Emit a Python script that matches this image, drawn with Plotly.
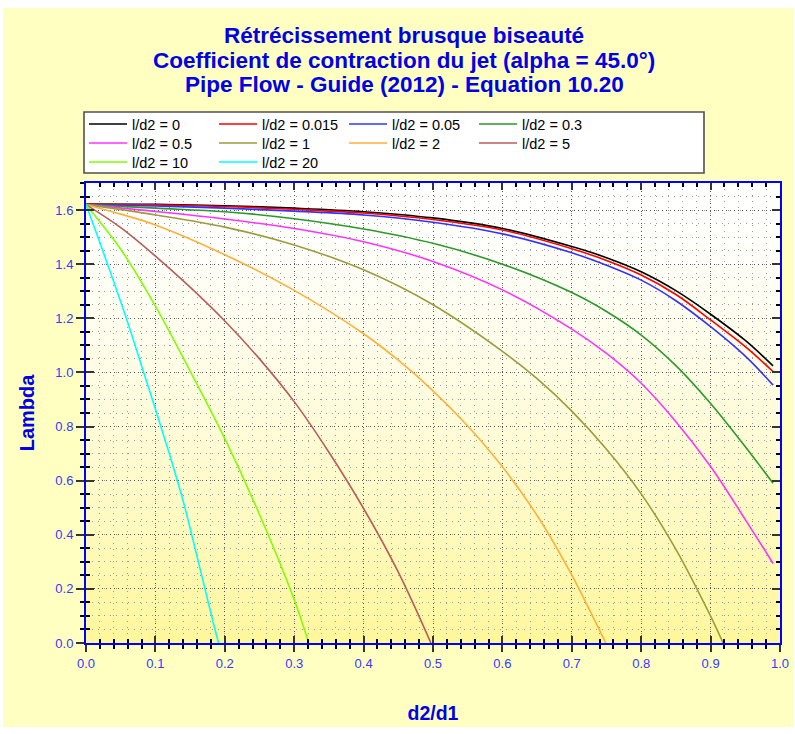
import plotly.graph_objects as go

# ---------------- data ----------------
legend_names = ["l/d2 = 0", "l/d2 = 0.015", "l/d2 = 0.05", "l/d2 = 0.3",
                "l/d2 = 0.5", "l/d2 = 1", "l/d2 = 2", "l/d2 = 5",
                "l/d2 = 10", "l/d2 = 20"]

x_flat = [0.0, 0.1, 0.2, 0.3, 0.4, 0.5, 0.6, 0.7, 0.75, 0.8, 0.85, 0.9, 0.95, 0.99]
y_ld_0 = [1.622, 1.621, 1.616, 1.607, 1.594, 1.571, 1.532, 1.465, 1.424, 1.372, 1.302, 1.215, 1.118, 1.024]
y_ld_0015 = [1.621, 1.619, 1.613, 1.603, 1.589, 1.565, 1.526, 1.457, 1.414, 1.360, 1.288, 1.194, 1.095, 1.003]
y_ld_005 = [1.620, 1.615, 1.607, 1.596, 1.582, 1.555, 1.512, 1.442, 1.396, 1.341, 1.265, 1.169, 1.060, 0.953]
y_ld_03 = [1.620, 1.607, 1.594, 1.568, 1.530, 1.477, 1.400, 1.295, 1.225, 1.138, 1.025, 0.885, 0.725, 0.590]
y_ld_05 = [1.620, 1.595, 1.567, 1.532, 1.483, 1.410, 1.305, 1.160, 1.070, 0.960, 0.818, 0.652, 0.456, 0.294]

x_ld_1 = [0.0, 0.1, 0.2, 0.3, 0.4, 0.5, 0.6, 0.65, 0.7, 0.75, 0.8, 0.85, 0.9, 0.918]
y_ld_1 = [1.620, 1.582, 1.537, 1.471, 1.379, 1.250, 1.078, 0.977, 0.857, 0.716, 0.551, 0.346, 0.099, 0.0]

x_ld_2 = [0.0, 0.05, 0.1, 0.2, 0.3, 0.4, 0.45, 0.5, 0.55, 0.6, 0.65, 0.7, 0.725, 0.749]
y_ld_2 = [1.620, 1.585, 1.545, 1.435, 1.303, 1.143, 1.045, 0.932, 0.802, 0.651, 0.471, 0.251, 0.125, 0.0]

x_ld_5 = [0.0, 0.05, 0.1, 0.15, 0.2, 0.25, 0.3, 0.35, 0.4, 0.45, 0.497]
y_ld_5 = [1.620, 1.535, 1.430, 1.315, 1.190, 1.050, 0.892, 0.705, 0.497, 0.262, 0.0]

x_ld_10 = [0.0, 0.05, 0.1, 0.15, 0.2, 0.25, 0.3, 0.321]
y_ld_10 = [1.620, 1.455, 1.245, 1.005, 0.755, 0.475, 0.160, 0.0]

x_ld_20 = [0.0, 0.02, 0.04, 0.06, 0.08, 0.1, 0.12, 0.14, 0.16, 0.18, 0.191]
y_ld_20 = [1.620, 1.480, 1.335, 1.185, 1.025, 0.865, 0.700, 0.525, 0.320, 0.110, 0.0]

series_x = [x_flat, x_flat, x_flat, x_flat, x_flat, x_ld_1, x_ld_2, x_ld_5, x_ld_10, x_ld_20]
series_y = [y_ld_0, y_ld_0015, y_ld_005, y_ld_03, y_ld_05, y_ld_1, y_ld_2, y_ld_5, y_ld_10, y_ld_20]

x_tick_vals = [0.0, 0.1, 0.2, 0.3, 0.4, 0.5, 0.6, 0.7, 0.8, 0.9, 1.0]
x_tick_text = ["0.0", "0.1", "0.2", "0.3", "0.4", "0.5", "0.6", "0.7", "0.8", "0.9", "1.0"]
y_tick_vals = [0.0, 0.2, 0.4, 0.6, 0.8, 1.0, 1.2, 1.4, 1.6]
y_tick_text = ["0.0", "0.2", "0.4", "0.6", "0.8", "1.0", "1.2", "1.4", "1.6"]

title_lines = ["Rétrécissement brusque biseauté",
               "Coefficient de contraction du jet (alpha = 45.0°)",
               "Pipe Flow - Guide (2012) - Equation 10.20"]

# ---------------- styling ----------------
colors = ["#000000", "#FF0000", "#3333FF", "#2A9A2A", "#FF33FF",
          "#9C9C3C", "#FFB038", "#B85C5C", "#80FF00", "#00FFFF"]
legend_rows = ["legend", "legend", "legend", "legend",
               "legend2", "legend2", "legend2", "legend2",
               "legend3", "legend3"]

W, H = 795, 734
ML, MR, MT, MB = 86, 15, 183, 91
PW, PH = W - ML - MR, H - MT - MB

def px_to_paper_x(px):
    return (px - ML) / PW

def py_to_paper_y(py):
    return (H - MB - py) / PH

FONT = "Liberation Sans, Arial, sans-serif"
BLUE_TXT = "#0000E6"
TICK_BLUE = "#3838FF"

fig = go.Figure()

for name, xs, ys, c, lg in zip(legend_names, series_x, series_y, colors, legend_rows):
    fig.add_trace(go.Scatter(x=xs, y=ys, mode="lines", name=name, legend=lg,
                             line=dict(color=c, width=1.6, shape="spline", smoothing=1.0)))

# empty trace to create the overlay axes used for the inner half of the crossing ticks
fig.add_trace(go.Scatter(x=[], y=[], xaxis="x2", yaxis="y2", showlegend=False,
                         hoverinfo="skip"))

shapes = []
# outer yellow panel
shapes.append(dict(type="rect", xref="paper", yref="paper",
                   x0=px_to_paper_x(3), x1=px_to_paper_x(794),
                   y0=py_to_paper_y(727), y1=py_to_paper_y(8),
                   fillcolor="#FFFFC2", line=dict(width=0), layer="below"))
# plot-area vertical gradient (white at top -> yellow at bottom)
N = 60
for i in range(N):
    f = (i + 0.5) / N
    t = f ** 1.5
    g = int(round(255 - 8 * t))
    b = int(round(255 - 100 * t))
    shapes.append(dict(type="rect", xref="x domain", yref="y domain",
                       x0=0, x1=1, y0=1 - (i + 1) / N, y1=1 - i / N + 0.002,
                       fillcolor=f"rgb(255,{g},{b})", line=dict(width=0), layer="below"))
# legend frame
shapes.append(dict(type="rect", xref="paper", yref="paper",
                   x0=px_to_paper_x(84), x1=px_to_paper_x(704),
                   y0=py_to_paper_y(173), y1=py_to_paper_y(112),
                   fillcolor="#FFFFFF", line=dict(color="#505050", width=1.6), layer="below"))

annotations = []
for line, yc in zip(title_lines, [36, 60, 84]):
    annotations.append(dict(text=f"<b>{line}</b>", xref="paper", yref="paper",
                            x=px_to_paper_x(404), y=py_to_paper_y(yc),
                            xanchor="center", yanchor="middle", showarrow=False,
                            font=dict(family=FONT, size=22.5, color=BLUE_TXT)))

axis_common = dict(showline=True, linecolor="#0000FF", linewidth=2, mirror=True,
                   zeroline=False, showgrid=True, gridcolor="#555555", griddash="1px,3px",
                   gridwidth=1, ticks="outside", tickcolor="#333333", tickwidth=1.5,
                   automargin=False,
                   tickfont=dict(family=FONT, size=13, color=TICK_BLUE))

legend_common = dict(orientation="h", x=px_to_paper_x(84), xanchor="left",
                     yanchor="middle", entrywidth=77, entrywidthmode="pixels",
                     itemwidth=38, bgcolor="rgba(0,0,0,0)", borderwidth=0,
                     traceorder="normal",
                     font=dict(family=FONT, size=14.5, color="#000000"))

fig.update_layout(
    width=W, height=H,
    margin=dict(l=ML, r=MR, t=MT, b=MB, autoexpand=False),
    paper_bgcolor="#FFFFFF",
    plot_bgcolor="rgba(0,0,0,0)",
    shapes=shapes,
    annotations=annotations,
    xaxis=dict(range=[0, 1], tickvals=x_tick_vals, ticktext=x_tick_text, ticklen=7,
               minor=dict(dtick=0.02, ticks="outside", ticklen=4, tickcolor="#000000",
                          showgrid=True, gridcolor="#9A9A9A", griddash="1px,5px"),
               title=dict(text="<b>d2/d1</b>", standoff=37,
                          font=dict(family=FONT, size=19.5, color=BLUE_TXT)),
               **axis_common),
    yaxis=dict(range=[0, 1.7], tickvals=y_tick_vals, ticktext=y_tick_text, ticklen=8,
               minor=dict(dtick=0.05, ticks="outside", ticklen=4, tickcolor="#000000",
                          showgrid=True, gridcolor="#9A9A9A", griddash="1px,5px"),
               title=dict(text="<b>Lambda</b>", standoff=15,
                          font=dict(family=FONT, size=20, color=BLUE_TXT)),
               **axis_common),
    xaxis2=dict(overlaying="x", anchor="y2", side="bottom", range=[0, 1],
                tickvals=x_tick_vals, ticks="inside", ticklen=7, tickwidth=1.5,
                tickcolor="#333333", mirror="ticks", showticklabels=False,
                showgrid=False, zeroline=False, showline=False, automargin=False,
                minor=dict(dtick=0.02, ticks="inside", ticklen=4, tickcolor="#000000")),
    yaxis2=dict(overlaying="y", anchor="x2", side="left", range=[0, 1.7],
                tickvals=y_tick_vals, ticks="inside", ticklen=8, tickwidth=1.5,
                tickcolor="#333333", mirror="ticks", showticklabels=False,
                showgrid=False, zeroline=False, showline=False, automargin=False,
                minor=dict(dtick=0.05, ticks="inside", ticklen=4, tickcolor="#000000")),
    legend=dict(y=py_to_paper_y(124), **legend_common),
    legend2=dict(y=py_to_paper_y(143), **legend_common),
    legend3=dict(y=py_to_paper_y(162), **legend_common),
    showlegend=True,
)

fig.write_html("out.html", config={"displayModeBar": False},
               post_script="document.body.style.margin='0';document.body.style.padding='0';")
